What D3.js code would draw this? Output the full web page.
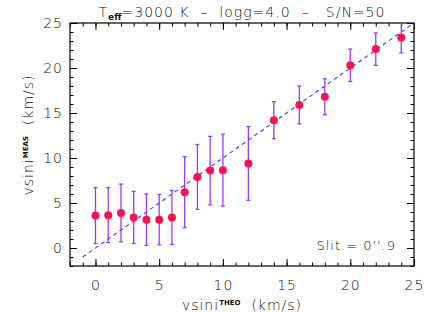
<!DOCTYPE html>
<html lang="en">
<head>
<meta charset="utf-8">
<title>vsini</title>
<style>
  body { margin: 0; background: #fff; }
  svg { display: block; background: #fff; }
  .axis text { font-family: "DejaVu Sans", sans-serif; font-weight: 200; font-size: 14px; letter-spacing: 1px; fill: #111; }
  .axis line { stroke: #000; }
  .axis path { display: none; }
  .lbl { font-family: "DejaVu Sans", sans-serif; font-weight: 200; letter-spacing: 1px; fill: #111; }
</style>
</head>
<body>
<svg id="chart" width="436" height="312"></svg>
<script src="https://cdn.jsdelivr.net/npm/d3@7/dist/d3.min.js"></script>
<script>
// data
var vTheo = [0, 1, 2, 3, 4, 5, 6, 7, 8, 9, 10, 12, 14, 16, 18, 20, 22, 24];
var vMeas = [3.6, 3.65, 3.9, 3.4, 3.15, 3.15, 3.4, 6.2, 7.9, 8.6, 8.65, 9.4, 14.2, 15.9, 16.8, 20.3, 22.1, 23.4];
var vErr  = [3.1, 3.05, 3.2, 2.9, 2.85, 2.8, 3.0, 3.95, 3.6, 3.8, 4.0, 4.1, 2.05, 2.1, 2.0, 1.8, 1.8, 1.7];
var majorTicks = [0, 5, 10, 15, 20, 25];
var oneToOne = [-1, 25];

var svg = d3.select('#chart'),
    margin = {top: 23, right: 22, bottom: 46, left: 70},
    w = +svg.attr('width') - margin.left - margin.right,
    h = +svg.attr('height') - margin.top - margin.bottom;

var x = d3.scaleLinear().domain([-2, 25]).range([0, w]),
    y = d3.scaleLinear().domain([-2, 25]).range([h, 0]);

var minor = d3.range(-2, 26, 1);

svg.append('defs').append('clipPath').attr('id', 'clip')
  .append('rect').attr('width', w).attr('height', h);

var g = svg.append('g')
  .attr('transform', 'translate(' + margin.left + ',' + margin.top + ')');

// axes: ticks pointing inward on all four sides
function addAxis(axis, tr, cls) {
  return g.append('g').attr('class', 'axis ' + cls).attr('transform', tr).call(axis);
}
addAxis(d3.axisBottom(x).tickValues(minor).tickFormat('').tickSizeInner(-3.5).tickSizeOuter(0), 'translate(0,' + h + ')', 'xm');
addAxis(d3.axisBottom(x).tickValues(majorTicks).tickSizeInner(-7).tickSizeOuter(0).tickPadding(14), 'translate(0,' + h + ')', 'x');
addAxis(d3.axisTop(x).tickValues(minor).tickFormat('').tickSizeInner(-3.5).tickSizeOuter(0), 'translate(0,0)', 'xm');
addAxis(d3.axisTop(x).tickValues(majorTicks).tickFormat('').tickSizeInner(-7).tickSizeOuter(0), 'translate(0,0)', 'x');
addAxis(d3.axisLeft(y).tickValues(minor).tickFormat('').tickSizeInner(-3.5).tickSizeOuter(0), 'translate(0,0)', 'ym');
addAxis(d3.axisLeft(y).tickValues(majorTicks).tickSizeInner(-7).tickSizeOuter(0).tickPadding(7), 'translate(0,0)', 'y');
addAxis(d3.axisRight(y).tickValues(minor).tickFormat('').tickSizeInner(-3.5).tickSizeOuter(0), 'translate(' + w + ',0)', 'ym');
addAxis(d3.axisRight(y).tickValues(majorTicks).tickFormat('').tickSizeInner(-7).tickSizeOuter(0), 'translate(' + w + ',0)', 'y');

g.append('rect')
  .attr('width', w).attr('height', h)
  .attr('fill', 'none').attr('stroke', '#000').attr('stroke-width', 1.2);

var plot = g.append('g').attr('clip-path', 'url(#clip)');

// 1:1 line
plot.append('line')
  .attr('x1', x(oneToOne[0])).attr('y1', y(oneToOne[0]))
  .attr('x2', x(oneToOne[1])).attr('y2', y(oneToOne[1]))
  .attr('stroke', '#3a3aff').attr('stroke-width', 1.1)
  .attr('stroke-dasharray', '4,3.5');

var pts = vTheo.map(function(d, i) { return {x: d, y: vMeas[i], e: vErr[i]}; });

// error bars
var eb = plot.selectAll('.eb').data(pts).enter().append('g').attr('class', 'eb')
  .attr('stroke', '#9a3cf5').attr('stroke-width', 1.3);
eb.append('line')
  .attr('x1', function(d) { return x(d.x); }).attr('x2', function(d) { return x(d.x); })
  .attr('y1', function(d) { return y(d.y - d.e); }).attr('y2', function(d) { return y(d.y + d.e); });
eb.append('line')
  .attr('x1', function(d) { return x(d.x) - 2; }).attr('x2', function(d) { return x(d.x) + 2; })
  .attr('y1', function(d) { return y(d.y + d.e); }).attr('y2', function(d) { return y(d.y + d.e); });
eb.append('line')
  .attr('x1', function(d) { return x(d.x) - 2; }).attr('x2', function(d) { return x(d.x) + 2; })
  .attr('y1', function(d) { return y(d.y - d.e); }).attr('y2', function(d) { return y(d.y - d.e); });

// points
plot.selectAll('.pt').data(pts).enter().append('circle')
  .attr('class', 'pt')
  .attr('cx', function(d) { return x(d.x); })
  .attr('cy', function(d) { return y(d.y); })
  .attr('r', 4)
  .attr('fill', '#ff1050');

// title
var title = svg.append('text').attr('class', 'lbl')
  .attr('x', margin.left + w / 2).attr('y', 17)
  .attr('text-anchor', 'middle').style('font-size', '14px');
title.append('tspan').text('T');
title.append('tspan').attr('dy', 3).style('font-size', '9px').style('font-weight', 'bold').style('letter-spacing', '0px').text('eff');
title.append('tspan').attr('dy', -3).attr('xml:space', 'preserve').text('=3000 K  \u2013  logg=4.0  \u2013   S/N=50');

// x label
var xl = svg.append('text').attr('class', 'lbl')
  .attr('x', margin.left + w / 2).attr('y', 310)
  .attr('text-anchor', 'middle').style('font-size', '14px');
xl.append('tspan').text('vsini');
xl.append('tspan').attr('dy', -5).style('font-size', '7px').style('font-weight', 'bold').style('letter-spacing', '0px').text('THEO');
xl.append('tspan').attr('dy', 5).attr('xml:space', 'preserve').text('  (km/s)');

// y label
var yl = svg.append('text').attr('class', 'lbl')
  .attr('transform', 'translate(33,135) rotate(-90)')
  .attr('text-anchor', 'middle').style('font-size', '14px');
yl.append('tspan').text('vsini');
yl.append('tspan').attr('dy', -5).style('font-size', '7px').style('font-weight', 'bold').style('letter-spacing', '0px').text('MEAS');
yl.append('tspan').attr('dy', 5).attr('xml:space', 'preserve').text('  (km/s)');

// slit annotation
svg.append('text').attr('class', 'lbl')
  .attr('x', 396).attr('y', 250)
  .attr('text-anchor', 'end').style('font-size', '13px')
  .text('Slit = 0\'\'.9');
</script>
</body>
</html>
